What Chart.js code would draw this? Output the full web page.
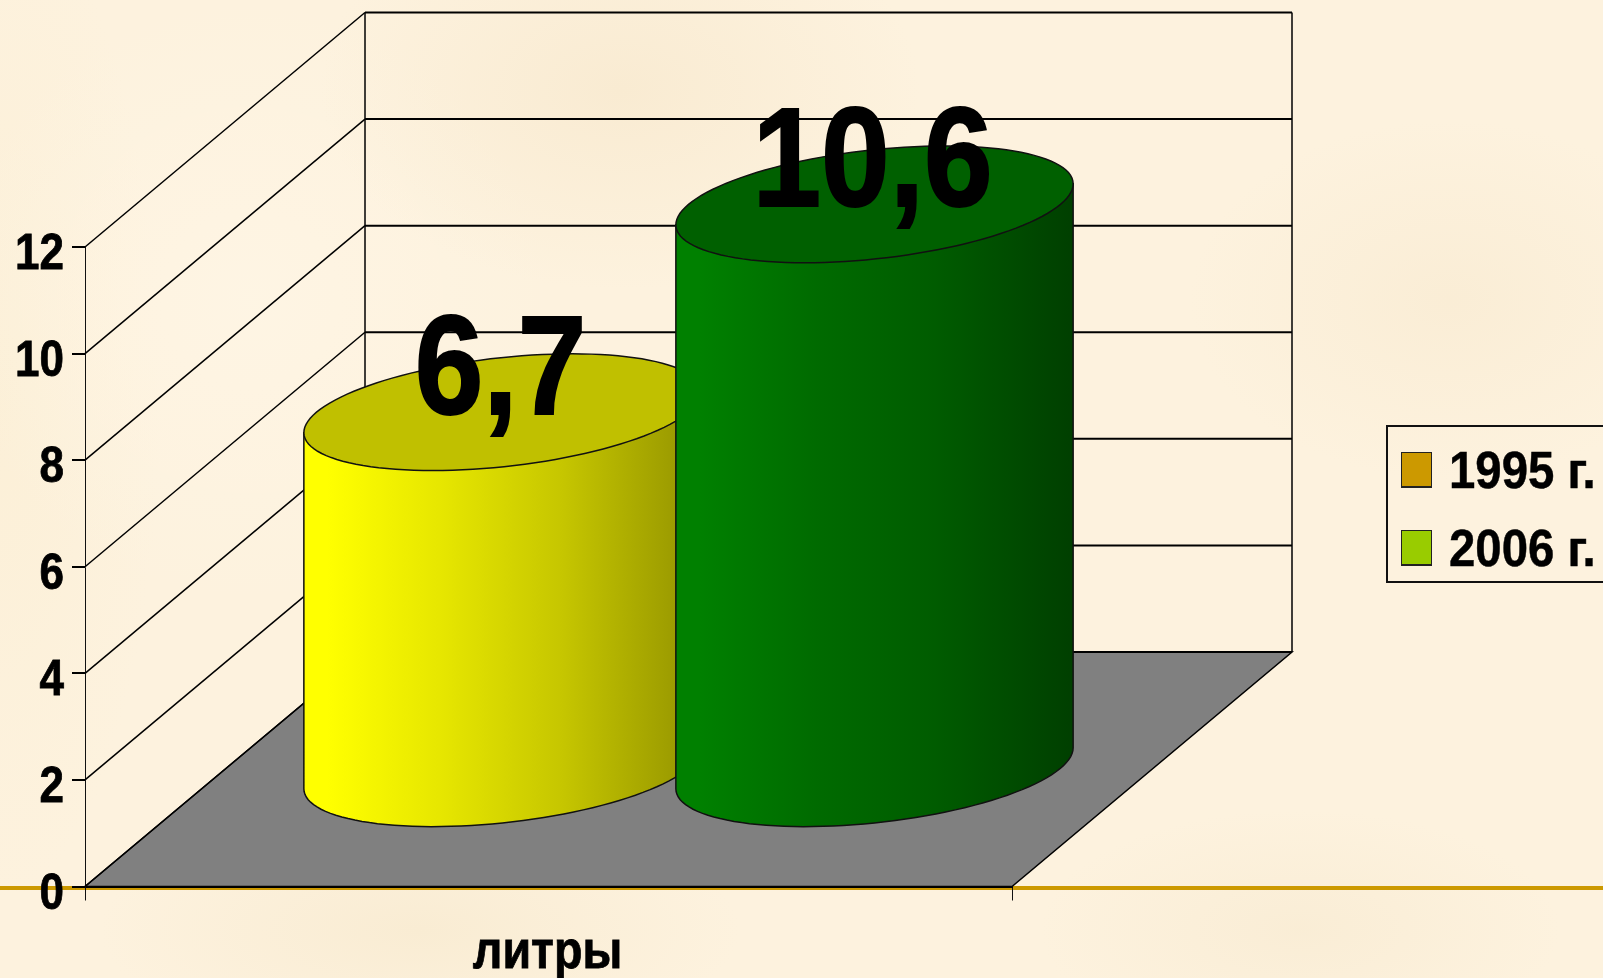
<!DOCTYPE html>
<html lang="ru">
<head>
<meta charset="utf-8">
<title>литры</title>
<script src="https://cdn.jsdelivr.net/npm/chart.js@4"></script>
<style>
    html, body { margin: 0; width: 1603px; height: 978px; overflow: hidden; }
    body {
        position: relative;
        background-color: #fdf2de;
        background-image:
            radial-gradient(ellipse 300px 200px at 620px 90px, rgba(245, 228, 198, 0.5), transparent),
            radial-gradient(ellipse 260px 180px at 1450px 300px, rgba(247, 232, 205, 0.5), transparent),
            radial-gradient(ellipse 320px 120px at 420px 930px, rgba(245, 230, 200, 0.5), transparent),
            radial-gradient(ellipse 260px 120px at 1300px 930px, rgba(246, 232, 205, 0.5), transparent),
            radial-gradient(ellipse 300px 300px at 250px 300px, rgba(255, 246, 230, 0.7), transparent),
            radial-gradient(ellipse 160px 500px at 0px 400px, rgba(250, 236, 205, 0.4), transparent);
    }
    #rule { position: absolute; left: 0; top: 886px; width: 1603px; height: 4px; background: #cc9900; }
    #chart { position: absolute; left: 0; top: 0; }
    #legend {
        position: absolute; left: 1386px; top: 425px; width: 240px; height: 154px;
        border: 2px solid #111; font: bold 52px "Liberation Sans", Arial, sans-serif; color: #000;
    }
    .legend-item { position: absolute; left: 13px; height: 36px; }
    .legend-item i { position: absolute; left: 0; top: -1px; width: 29px; height: 33px; border: 1px solid #222; border-bottom-width: 2px; }
    .legend-item span { position: absolute; left: 48px; top: -13px; white-space: nowrap; transform: scaleX(0.91); transform-origin: left center; -webkit-text-stroke: 0.5px #000; }
</style>
</head>
<body>
<div id="rule"></div>
<canvas id="chart" width="1603" height="978"></canvas>
<div id="legend"></div>
<script>
const categories = ['литры'];
const seriesNames = ['1995 г.', '2006 г.'];
const seriesValues = [[6.7], [10.6]];
const valueLabels = ['6,7', '10,6'];
const legendColors = ['#cc9900', '#99cc00'];
const sideColors = [
    ['#ffff00', '#e6e600', '#c6c600', '#929200'],
    ['#008000', '#006b00', '#005c00', '#003f00']
];
const topColors = ['#c0c000', '#006000'];

const FONT = '"Liberation Sans", Arial, sans-serif';

// how far the floor runs back on screen
const DEPTH_X = 280;
const DEPTH_Y = 234.5;
// share of that depth taken by one cylinder
const CYLINDER_DEPTH = 0.249;

function line(ctx, x1, y1, x2, y2) {
    ctx.beginPath();
    ctx.moveTo(x1, y1);
    ctx.lineTo(x2, y2);
    ctx.stroke();
}

// Arial in the original is squeezed sideways, so text goes through a scale
function squeezedText(ctx, text, x, y, size, squeeze, align, stroke) {
    ctx.save();
    ctx.translate(x, y);
    ctx.scale(squeeze, 1);
    ctx.font = `bold ${size}px ${FONT}`;
    ctx.textAlign = align;
    ctx.textBaseline = 'alphabetic';
    ctx.fillStyle = '#000';
    ctx.fillText(text, 0, 0);
    if (stroke) {
        ctx.strokeStyle = '#000';
        ctx.lineWidth = stroke;
        ctx.strokeText(text, 0, 0);
    }
    ctx.restore();
}

function drawRoom(chart) {
    const { ctx, chartArea } = chart;
    const yScale = chart.scales.y;
    const { left, right, bottom } = chartArea;

    ctx.save();
    ctx.strokeStyle = '#000';
    ctx.lineWidth = 1.5;

    // floor
    ctx.beginPath();
    ctx.moveTo(left, bottom);
    ctx.lineTo(right, bottom);
    ctx.lineTo(right + DEPTH_X, bottom - DEPTH_Y);
    ctx.lineTo(left + DEPTH_X, bottom - DEPTH_Y);
    ctx.closePath();
    ctx.fillStyle = '#808080';
    ctx.fill();
    ctx.stroke();

    // side and back walls
    yScale.ticks.forEach(tick => {
        const y = yScale.getPixelForValue(tick.value);
        line(ctx, left, y, left + DEPTH_X, y - DEPTH_Y);
        ctx.lineWidth = 2;
        line(ctx, left + DEPTH_X, y - DEPTH_Y, right + DEPTH_X, y - DEPTH_Y);
        ctx.lineWidth = 1.5;
    });
    const top = yScale.getPixelForValue(yScale.max) - DEPTH_Y;
    line(ctx, left + DEPTH_X, top, left + DEPTH_X, bottom - DEPTH_Y);
    line(ctx, right + DEPTH_X, top, right + DEPTH_X, bottom - DEPTH_Y);
    ctx.restore();
}

function drawCylinder(ctx, bar, index) {
    const a = bar.width / 2;
    const b = CYLINDER_DEPTH * DEPTH_X;
    const h = CYLINDER_DEPTH * DEPTH_Y;
    const cx = bar.x + DEPTH_X / 2;
    const topY = bar.y - DEPTH_Y / 2;
    const baseY = bar.base - DEPTH_Y / 2;
    const rim = Math.atan2(b, a);
    const point = (t, cy) => [cx + a * Math.cos(t) + b * Math.sin(t), cy - h * Math.sin(t)];
    const halfWidth = Math.hypot(a, b);

    ctx.save();
    ctx.strokeStyle = '#111';
    ctx.lineWidth = 1.5;

    const gradient = ctx.createLinearGradient(cx - halfWidth, 0, cx + halfWidth, 0);
    const stops = sideColors[index];
    gradient.addColorStop(0.06, stops[0]);
    gradient.addColorStop(0.35, stops[1]);
    gradient.addColorStop(0.65, stops[2]);
    gradient.addColorStop(1, stops[3]);

    // wall of the cylinder, round the front of the base
    ctx.beginPath();
    for (let i = 0; i <= 60; i++) {
        const p = point(rim + Math.PI + Math.PI * i / 60, baseY);
        ctx.lineTo(p[0], p[1]);
    }
    ctx.lineTo(...point(rim, topY));
    ctx.lineTo(...point(rim + Math.PI, topY));
    ctx.closePath();
    ctx.fillStyle = gradient;
    ctx.fill();
    ctx.stroke();

    // lid
    ctx.beginPath();
    for (let i = 0; i < 120; i++) {
        const p = point(Math.PI * 2 * i / 120, topY);
        ctx.lineTo(p[0], p[1]);
    }
    ctx.closePath();
    ctx.fillStyle = topColors[index];
    ctx.fill();
    ctx.stroke();
    ctx.restore();
}

function drawAxisLabels(chart) {
    const { ctx, scales } = chart;
    scales.y.ticks.forEach(tick => {
        squeezedText(ctx, tick.label, 64, scales.y.getPixelForValue(tick.value) + 22, 50, 0.88, 'right', 0.8);
    });
    categories.forEach((name, i) => {
        squeezedText(ctx, name, scales.x.getPixelForTick(i) - 1, 968, 53, 0.88, 'center', 0.8);
    });
}

const cylinders = {
    id: 'cylinders',
    beforeDatasetsDraw(chart) {
        drawRoom(chart);
        seriesValues.forEach((_, i) => {
            drawCylinder(chart.ctx, chart.getDatasetMeta(i).data[0], i);
        });
    },
    afterDatasetsDraw(chart) {
        seriesValues.forEach((_, i) => {
            const bar = chart.getDatasetMeta(i).data[0];
            squeezedText(chart.ctx, valueLabels[i], bar.x + DEPTH_X / 2 - 2, bar.y - DEPTH_Y / 2 + 2, 141, 0.875, 'center', 2);
        });
        drawAxisLabels(chart);
    }
};

new Chart(document.getElementById('chart'), {
    type: 'bar',
    plugins: [cylinders],
    data: {
        labels: categories,
        datasets: seriesNames.map((name, i) => ({
            label: name,
            data: seriesValues[i],
            backgroundColor: 'transparent',
            categoryPercentage: 0.8026,
            barPercentage: 1
        }))
    },
    options: {
        responsive: false,
        animation: false,
        layout: { padding: { top: 247, right: 591, bottom: 0, left: 0 } },
        plugins: {
            legend: { display: false },
            tooltip: { enabled: false }
        },
        scales: {
            x: {
                afterFit(scale) { scale.height = 91.5; },
                grid: { drawOnChartArea: false, color: '#111', tickLength: 14, lineWidth: 1 },
                border: { color: '#000', width: 2 },
                ticks: { display: false }
            },
            y: {
                min: 0,
                max: 12,
                afterFit(scale) { scale.width = 85; },
                grid: { drawOnChartArea: false, color: '#000', tickLength: 13, lineWidth: 2 },
                border: { color: '#111', width: 1 },
                ticks: { display: false, stepSize: 2 }
            }
        }
    }
});

// legend keeps its own colours, the bars are painted differently in the original
const legendTops = [26, 104];
seriesNames.forEach((name, i) => {
    const item = document.createElement('div');
    item.className = 'legend-item';
    item.style.top = legendTops[i] + 'px';
    item.innerHTML = `<i style="background:${legendColors[i]}"></i><span>${name}</span>`;
    document.getElementById('legend').appendChild(item);
});
</script>
</body>
</html>
